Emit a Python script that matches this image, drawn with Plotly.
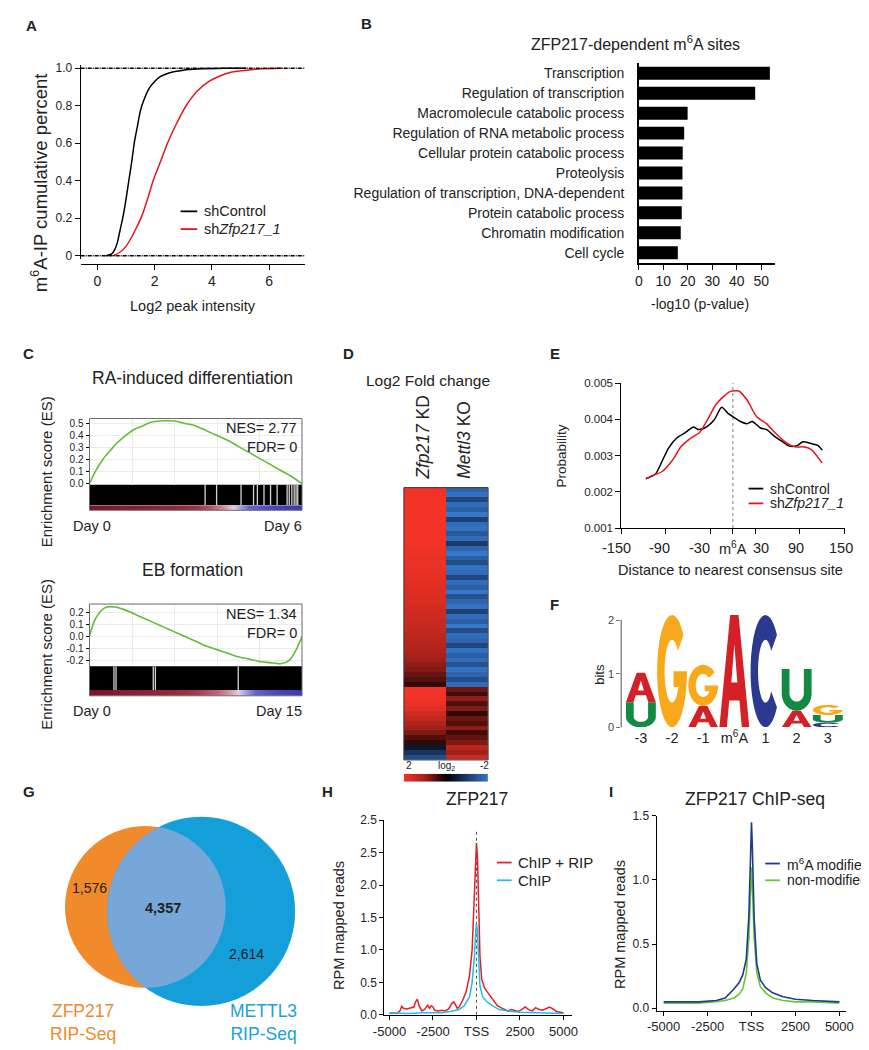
import numpy as np
import plotly.graph_objects as go

W, H = 869, 1050
FONT = "Arial, Liberation Sans, sans-serif"
INK = "#222222"

# ---------------- data ----------------
# (A) cumulative distribution of m6A-IP peak intensity
a_ctrl_x = [0.3, 0.5, 0.6, 0.7, 0.8, 0.9, 1.0, 1.1, 1.2, 1.3, 1.4, 1.5, 1.6, 1.8, 2.0, 2.2, 2.5, 3.0, 3.5, 4.5, 5.2]
a_ctrl_y = [0, 0.01, 0.03, 0.07, 0.14, 0.21, 0.30, 0.40, 0.50, 0.61, 0.69, 0.77, 0.82, 0.89, 0.93, 0.955, 0.975, 0.99, 0.996, 1.0, 1.0]
a_kd_x = [0.55, 0.8, 1.0, 1.2, 1.4, 1.55, 1.75, 1.95, 2.2, 2.45, 2.75, 3.1, 3.5, 3.9, 4.3, 4.7, 5.2, 5.8, 6.45]
a_kd_y = [0, 0.02, 0.05, 0.10, 0.16, 0.21, 0.30, 0.40, 0.50, 0.60, 0.70, 0.80, 0.88, 0.93, 0.96, 0.98, 0.99, 0.997, 1.0]

# (B) GO terms of ZFP217-dependent m6A sites
b_terms = ["Transcription", "Regulation of transcription", "Macromolecule catabolic process",
           "Regulation of RNA metabolic process", "Cellular protein catabolic process", "Proteolysis",
           "Regulation of transcription, DNA-dependent", "Protein catabolic process",
           "Chromatin modification", "Cell cycle"]
b_logp = [53.5, 47.5, 19.9, 18.5, 17.9, 17.8, 17.8, 17.5, 17.1, 15.9]

# (C) GSEA running enrichment scores (rank as fraction of list)
c_ra_rank = [0, 0.03, 0.066, 0.1, 0.13, 0.17, 0.21, 0.25, 0.29, 0.33, 0.4, 0.45, 0.5, 0.55, 0.6,
             0.65, 0.7, 0.75, 0.8, 0.85, 0.9, 0.95, 1.0]
c_ra_es = [0, 0.11, 0.21, 0.28, 0.34, 0.40, 0.45, 0.48, 0.51, 0.52, 0.52, 0.50, 0.48, 0.44, 0.40,
           0.36, 0.31, 0.26, 0.21, 0.16, 0.11, 0.06, 0.0]
c_ra_gaps = [0.544, 0.598, 0.713, 0.772, 0.790, 0.821, 0.852, 0.883, 0.93, 0.94, 0.952, 0.963, 0.972, 0.980]
c_ra_metric = [1.0, 0.95, 0.9, 0.88, 0.85, 0.8, 0.75, 0.7, 0.6, 0.45, 0.2, -0.1, -0.4, -0.65, -0.85, -0.95, -1.0]

c_eb_rank = [0, 0.02, 0.05, 0.08, 0.12, 0.16, 0.2, 0.25, 0.3, 0.35, 0.4, 0.45, 0.5, 0.55, 0.6, 0.65,
             0.7, 0.75, 0.8, 0.85, 0.9, 0.94, 0.97, 1.0]
c_eb_es = [0, 0.12, 0.21, 0.25, 0.25, 0.23, 0.20, 0.16, 0.12, 0.08, 0.04, 0.0, -0.04, -0.08, -0.11,
           -0.14, -0.17, -0.19, -0.21, -0.22, -0.23, -0.20, -0.12, 0.0]
c_eb_gaps = [0.115, 0.125, 0.30, 0.31, 0.70]
c_eb_metric = [1.0, 0.95, 0.9, 0.85, 0.8, 0.75, 0.7, 0.6, 0.5, 0.35, 0.1, -0.2, -0.5, -0.75, -0.9, -1.0]

# (D) log2 fold change, rows top to bottom
d_kd = [2.0, 2.0, 2.0, 2.0, 2.0, 2.0, 2.0, 2.0, 2.0, 2.0, 2.0, 2.0, 1.95, 1.95, 1.9, 1.9, 1.9, 1.85,
        1.85, 1.8, 1.8, 1.75, 1.7, 1.7, 1.65, 1.6, 1.55, 1.5, 1.45, 1.4, 1.35, 1.3, 1.25, 1.2, 1.1,
        1.0, 0.9, 0.8, 0.65, 0.5, 0.3,
        2.0, 2.0, 2.0, 1.9, 1.8, 1.6, 1.4, 1.2, 1.0, 0.8, 0.5, 0.3,
        -0.4, -0.9, -1.3]
d_ko = [-1.7, -1.9, -1.2, -1.8, -1.6, -2.0, -1.1, -1.8, -1.9, -1.5, -1.8, -1.0, -1.7, -2.0, -1.6,
        -1.3, -1.9, -1.8, -1.2, -1.8, -1.6, -2.0, -1.4, -1.7, -1.9, -1.1, -1.8, -1.6, -2.0, -1.3,
        -1.8, -1.7, -1.2, -1.9, -1.6, -1.8, -1.4, -1.9, -1.7, -1.3, -1.8,
        0.7, 0.4, 0.9, 0.5, 0.8, 0.3, 0.7, 0.5, 0.9, 0.4, 0.6, 0.8,
        1.3, 1.0, 1.5]
d_scale = [2, 0, -2]

# (E) distance to nearest consensus site
e_ctrl_x = [-117, -104, -95, -86, -75, -64, -53, -47, -38, -25, -15, -7, 1, 10, 19, 26, 37, 45, 56,
            67, 76, 87, 94, 105, 114, 120]
e_ctrl_y = [0.00236, 0.00249, 0.00285, 0.00322, 0.00349, 0.00363, 0.00379, 0.00372, 0.00376,
            0.00399, 0.00433, 0.00417, 0.00406, 0.00394, 0.00388, 0.00394, 0.00376, 0.00372,
            0.00353, 0.00338, 0.00326, 0.00328, 0.00338, 0.00333, 0.00328, 0.00315]
e_kd_x = [-117, -108, -95, -82, -69, -56, -45, -34, -23, -12, -3, 8, 19, 32, 45, 59, 72, 83, 94, 105, 120]
e_kd_y = [0.00236, 0.00245, 0.00256, 0.00285, 0.00326, 0.00349, 0.00363, 0.00399, 0.00440, 0.00464,
          0.00477, 0.00478, 0.00453, 0.00407, 0.00388, 0.00358, 0.00335, 0.00324, 0.00324, 0.00317,
          0.00279]
e_ticks = [-150, -90, -30, 0, 30, 90, 150]
e_tick_text = ["-150", "-90", "-30", "m<sup>6</sup>A", "30", "90", "150"]

# (F) motif logo: letters bottom to top with information (bits)
f_labels = ["-3", "-2", "-1", "m<sup>6</sup>A", "1", "2", "3"]
f_letters = [["U", "A"], ["G"], ["A", "G"], ["A"], ["C"], ["A", "U"], ["C", "U", "G"]]
f_bits = [[0.47, 0.55], [2.1], [0.4, 0.77], [2.1], [2.1], [0.31, 0.78], [0.09, 0.14, 0.19]]

# (G) Venn counts
g_zfp_only = 1576
g_both = 4357
g_mettl3_only = 2614

# (H) ZFP217 signal around TSS
h_rip_x = [-5000, -4800, -4600, -4400, -4300, -4200, -4000, -3800, -3600, -3500, -3400, -3300, -3150,
           -3000, -2800, -2700, -2600, -2500, -2400, -2200, -2000, -1800, -1600, -1400, -1300, -1200,
           -1100, -1000, -800, -600, -400, -250, -150, -60, 0, 60, 120, 200, 300, 450, 600, 800, 1000,
           1200, 1400, 1600, 1800, 2000, 2200, 2400, 2600, 2800, 3000, 3200, 3400, 3600, 3800, 4000,
           4200, 4400, 4600, 4800, 5000]
h_rip = [0.02, 0.03, 0.02, 0.06, 0.13, 0.10, 0.09, 0.10, 0.12, 0.20, 0.24, 0.14, 0.06, 0.08, 0.15,
         0.10, 0.14, 0.12, 0.07, 0.06, 0.07, 0.06, 0.09, 0.18, 0.20, 0.15, 0.10, 0.12, 0.22, 0.35,
         0.60, 1.0, 1.6, 2.3, 2.65, 2.4, 1.6, 0.9, 0.55, 0.42, 0.36, 0.28, 0.20, 0.14, 0.11, 0.08,
         0.06, 0.08, 0.06, 0.05, 0.08, 0.12, 0.08, 0.06, 0.11, 0.08, 0.07, 0.10, 0.12, 0.09, 0.05,
         0.04, 0.03]
h_chip_x = [-5000, -4000, -3000, -2000, -1500, -1000, -700, -400, -250, -120, -40, 0, 50, 120, 200,
            350, 600, 900, 1300, 1800, 2500, 3500, 4500, 5000]
h_chip = [0.03, 0.02, 0.03, 0.03, 0.05, 0.08, 0.14, 0.28, 0.5, 0.9, 1.3, 1.4, 1.3, 0.85, 0.45, 0.28,
          0.2, 0.14, 0.08, 0.06, 0.04, 0.03, 0.02, 0.02]

# (I) ZFP217 ChIP-seq, m6A modified vs non-modified
i_x = [-5000, -4000, -3000, -2000, -1500, -1000, -700, -500, -300, -150, -50, 0, 50, 150, 300, 500,
       800, 1200, 1800, 2500, 3500, 5000]
i_mod = [0.05, 0.05, 0.05, 0.06, 0.08, 0.15, 0.20, 0.26, 0.38, 0.72, 1.2, 1.45, 1.25, 0.7, 0.35,
         0.22, 0.16, 0.12, 0.09, 0.07, 0.06, 0.05]
i_non = [0.04, 0.04, 0.04, 0.05, 0.06, 0.08, 0.11, 0.15, 0.27, 0.55, 0.95, 1.1, 0.95, 0.55, 0.28,
         0.17, 0.12, 0.08, 0.06, 0.05, 0.05, 0.04]

# ---------------- helpers ----------------
def fx(x):
    return x / W


def fy(y):
    return 1 - y / H


fig = go.Figure()
layout = {}
shapes = []
annotations = []


def note(x, y, text, size=13, xanchor="center", yanchor="middle", angle=0, color=INK):
    annotations.append(dict(x=fx(x), y=fy(y), xref="paper", yref="paper", text=text, showarrow=False,
                            xanchor=xanchor, yanchor=yanchor, textangle=angle,
                            font=dict(family=FONT, size=size, color=color)))


def axes(i, x0, x1, y0, y1, xr, yr, xkw=None, ykw=None):
    s = "" if i == 1 else str(i)
    base = dict(showgrid=False, zeroline=False, showline=True, linecolor="black", linewidth=1,
                ticks="outside", ticklen=4, tickcolor="black", tickangle=0,
                tickfont=dict(family=FONT, size=12, color=INK))
    xa = dict(base, domain=[fx(x0), fx(x1)], anchor="y" + s)
    ya = dict(base, domain=[fy(y1), fy(y0)], anchor="x" + s)
    if xr is not None:
        xa["range"] = xr
    if yr is not None:
        ya["range"] = yr
    xa.update(xkw or {})
    ya.update(ykw or {})
    layout["xaxis" + s] = xa
    layout["yaxis" + s] = ya
    return "x" + s, "y" + s


HIDDEN = dict(showline=False, ticks="", showticklabels=False, showgrid=False)


def legend_line(x0, x1, y, color, text, size=14):
    shapes.append(dict(type="line", xref="paper", yref="paper", x0=fx(x0), x1=fx(x1), y0=fy(y), y1=fy(y),
                       line=dict(color=color, width=1.8)))
    note(x1 + 5, y, text, size=size, xanchor="left")


def line(x, y, xa, ya, color, width=1.5, shape="linear"):
    fig.add_trace(go.Scatter(x=x, y=y, xaxis=xa, yaxis=ya, mode="lines", showlegend=False,
                             line=dict(color=color, width=width, shape=shape, smoothing=0.7),
                             hoverinfo="skip"))


# ---------------- (A) ----------------
xa, ya = axes(1, 63, 292, 51, 247, [-0.58, 7.25], [-0.0158, 1.0158],
              xkw=dict(anchor="free", position=fy(252), tickvals=[0, 2, 4, 6], ticklen=5,
                       tickfont=dict(family=FONT, size=14, color=INK)),
              ykw=dict(tickvals=[0, 0.2, 0.4, 0.6, 0.8, 1.0], ticktext=["0", "0.2", "0.4", "0.6", "0.8", "1.0"],
                       ticklen=5))
for v in (0, 1):
    shapes.append(dict(type="line", xref="x domain", yref="y", x0=0, x1=1, y0=v, y1=v,
                       line=dict(color="black", width=1.5, dash="4px,1px,1px,1px")))
line(a_ctrl_x, a_ctrl_y, xa, ya, "black", shape="spline")
line(a_kd_x, a_kd_y, xa, ya, "#e8141c", shape="spline")
legend_line(165, 182, 199, "black", "shControl", 14.5)
legend_line(165, 182, 217, "#e8141c", "sh<i>Zfp217_1</i>", 14.5)
note(178, 295, "Log2 peak intensity", 14.5)
note(20, 170, "m<sup>6</sup>A-IP cumulative percent", 18.5, angle=-90)
note(13, 11, "<b>A</b>", 15)

# ---------------- (B) ----------------
xa, ya = axes(2, 633, 772, 49, 251, [0, 55.6], None,
              xkw=dict(tickvals=[0, 10, 20, 30, 40, 50], ticklen=5, linewidth=2,
                       tickfont=dict(family=FONT, size=14, color=INK)),
              ykw=dict(type="category", categoryorder="array", categoryarray=b_terms, autorange="reversed",
                       ticks="", linewidth=1.5, ticklabelstandoff=10,
                       tickfont=dict(family=FONT, size=14, color=INK)))
fig.add_trace(go.Bar(x=b_logp, y=b_terms, orientation="h", xaxis=xa, yaxis=ya, width=0.65,
                     marker=dict(color="black", line=dict(width=0)), showlegend=False))
note(630, 28, "ZFP217-dependent m<sup>6</sup>A sites", 16)
note(695, 293, "-log10 (p-value)", 14)
note(355, 9, "<b>B</b>", 15)

# ---------------- (C) ----------------
STRIP = [[0, "#3a3ab4"], [0.3, "#6464cc"], [0.48, "#ddd2e4"], [0.58, "#d6909e"], [0.8, "#a03244"],
         [1, "#7a1428"]]
GRID = dict(showgrid=True, gridcolor="#ebebeb", gridwidth=1)


def gsea(i0, top, es_bot, bar_bot, strip_bot, yr, yticks, rank, es, gaps, metric):
    xa, ya = axes(i0, 72, 289, top, es_bot, [0, 1], yr,
                  xkw=dict(HIDDEN, tickvals=[0.2, 0.4, 0.6, 0.8], **GRID),
                  ykw=dict(GRID, showline=False, tickvals=yticks, ticktext=["%.1f" % t for t in yticks],
                           ticklen=3, tickfont=dict(family=FONT, size=10, color=INK)))
    line(rank, es, xa, ya, "#62bd36", 1.6, "spline")
    xb, yb = axes(i0 + 1, 72, 289, es_bot, bar_bot, [0, 1], [0, 1], xkw=HIDDEN, ykw=HIDDEN)
    shapes.append(dict(type="rect", xref=xb + " domain", yref=yb + " domain", x0=0, x1=1, y0=0, y1=1,
                       fillcolor="black", line=dict(width=0), layer="below"))
    gx, gy = [], []
    for g in gaps:
        gx += [g, g, None]
        gy += [0, 1, None]
    line(gx, gy, xb, yb, "#d4d4d4", 1.3)
    xs, ys = axes(i0 + 2, 72, 289, bar_bot, strip_bot, [0, 1], [0, 1], xkw=HIDDEN, ykw=HIDDEN)
    fig.add_trace(go.Heatmap(z=[metric], x=list(np.linspace(0, 1, len(metric))), y=[0.5], xaxis=xs, yaxis=ys,
                             colorscale=STRIP, zmin=-1, zmax=1, zsmooth="best", showscale=False,
                             hoverinfo="skip"))
    shapes.append(dict(type="rect", xref="paper", yref="paper", x0=fx(72), x1=fx(289), y0=fy(strip_bot),
                       y1=fy(top), line=dict(color="#6a6a6a", width=1)))


gsea(3, 409, 476, 497, 502, [-0.008, 0.541], [0, 0.1, 0.2, 0.3, 0.4, 0.5],
     c_ra_rank, c_ra_es, c_ra_gaps, c_ra_metric)
note(177, 368, "RA-induced differentiation", 17.5)
note(286, 419, "NES= 2.77", 14.5, xanchor="right")
note(286, 438, "FDR= 0", 14.5, xanchor="right")
note(53, 518, "Day 0", 14.5, xanchor="left")
note(291, 518, "Day 6", 14.5, xanchor="right")
note(28, 463, "Enrichment score (ES)", 15, angle=-90)

gsea(6, 597, 660, 684, 690, [-0.25, 0.275], [-0.2, -0.1, 0, 0.1, 0.2],
     c_eb_rank, c_eb_es, c_eb_gaps, c_eb_metric)
note(177, 562, "EB formation", 17.5)
note(286, 607, "NES= 1.34", 14.5, xanchor="right")
note(286, 626, "FDR= 0", 14.5, xanchor="right")
note(53, 705, "Day 0", 14.5, xanchor="left")
note(291, 705, "Day 15", 14.5, xanchor="right")
note(28, 648, "Enrichment score (ES)", 15, angle=-90)
note(10, 343, "<b>C</b>", 15)

# ---------------- (D) ----------------
FC = [[0, "#3678cc"], [0.25, "#1b3a68"], [0.5, "#000000"], [0.75, "#a0201a"], [1, "#f23326"]]
xa, ya = axes(9, 393, 479, 479, 755, [-0.5, 1.5], None, xkw=HIDDEN, ykw=dict(HIDDEN, autorange="reversed"))
fig.add_trace(go.Heatmap(z=[[k, m] for k, m in zip(d_kd, d_ko)], x=[0, 1], y=list(range(len(d_kd))),
                         xaxis=xa, yaxis=ya, colorscale=FC, zmin=-2, zmax=2, showscale=False,
                         hoverinfo="skip"))
shapes.append(dict(type="rect", xref="paper", yref="paper", x0=fx(393), x1=fx(479), y0=fy(755), y1=fy(479),
                   line=dict(color="#333333", width=1)))
xa, ya = axes(10, 393, 479, 769, 777, None, [0, 1], xkw=HIDDEN, ykw=HIDDEN)
fig.add_trace(go.Heatmap(z=[d_scale], y=[0.5], xaxis=xa, yaxis=ya, colorscale=FC, zmin=-2, zmax=2,
                         zsmooth="best", showscale=False, hoverinfo="skip"))
layout["xaxis10"]["range"] = [0, 2]
note(418, 370, "Log2 Fold change", 15.5)
note(413, 428, "<i>Zfp217</i> KD", 17.5, angle=-90)
note(455, 431, "<i>Mettl3</i> KO", 17.5, angle=-90)
note(398, 761, "2", 10)
note(437, 761, "log<sub>2</sub>", 10)
note(475, 761, "-2", 10)
note(336, 343, "<b>D</b>", 15)

# ---------------- (E) ----------------
xa, ya = axes(11, 615, 843, 373, 520, [-150, 150], [0.001, 0.005],
              xkw=dict(tickvals=e_ticks, showticklabels=False, ticklen=5),
              ykw=dict(tickvals=[0.001, 0.002, 0.003, 0.004, 0.005],
                       ticktext=["0.001", "0.002", "0.003", "0.004", "0.005"], ticklen=5,
                       tickfont=dict(family=FONT, size=11.5, color=INK)))
# tick labels drawn as annotations so the crowded centre labels can be nudged apart
for val, lab, shift in zip(e_ticks, e_tick_text, [-5, -6, -11, 0, 6, -4, -4]):
    annotations.append(dict(x=val, y=fy(540), xref=xa, yref="paper", text=lab, showarrow=False,
                            xshift=shift, xanchor="center", yanchor="middle",
                            font=dict(family=FONT, size=14.5, color=INK)))
shapes.append(dict(type="line", xref=xa, yref=ya + " domain", x0=0, x1=0, y0=0, y1=1,
                   line=dict(color="#777777", width=1, dash="dot"), layer="below"))
line(e_ctrl_x, e_ctrl_y, xa, ya, "black", 1.5, "spline")
line(e_kd_x, e_kd_y, xa, ya, "#e8141c", 1.5, "spline")
legend_line(745, 760, 480, "black", "shControl", 14)
legend_line(745, 760, 495, "#e8141c", "sh<i>Zfp217_1</i>", 14)
note(554, 447, "Probability", 13.5, angle=-90)
note(727, 562, "Distance to nearest consensus site", 14.5)
note(547, 343, "<b>E</b>", 15)

# ---------------- (F) ----------------
def arc(cx, cy, rx, ry, a0, a1, n=28):
    t = np.radians(np.linspace(a0, a1, n))
    return list(zip(cx + rx * np.cos(t), cy + ry * np.sin(t)))


GLYPHS = {
    "A": [[(0, 0), (0.36, 1), (0.64, 1), (1, 0), (0.75, 0), (0.67, 0.24), (0.33, 0.24), (0.25, 0)],
          [(0.60, 0.40), (0.5, 0.74), (0.40, 0.40)]],
    "C": [arc(0.5, 0.5, 0.5, 0.5, 40, 320) + arc(0.5, 0.5, 0.25, 0.28, 320, 40)],
    "G": [arc(0.5, 0.5, 0.5, 0.5, 40, 360) + [(0.55, 0.5), (0.55, 0.36)] + arc(0.5, 0.5, 0.25, 0.28, 330, 40)],
    "U": [[(0, 1), (0, 0.42)] + arc(0.5, 0.42, 0.5, 0.42, 180, 360) + [(1, 1), (0.74, 1)]
          + arc(0.5, 0.42, 0.24, 0.2, 360, 180) + [(0.26, 1)]],
}
BASE_COLOR = {"A": "#d42027", "C": "#2b3990", "G": "#f7a81b", "U": "#138a43"}

xa, ya = axes(12, 615, 845, 600, 722, [0.37, 7.6], [0, 2.25],
              xkw=dict(showline=False, ticks="", tickvals=list(range(1, 8)), ticktext=f_labels,
                       tickfont=dict(family=FONT, size=14.5, color=INK)),
              ykw=dict(showline=False, tickvals=[0, 1, 2], ticklen=4, tickcolor="#777777",
                       tickfont=dict(family=FONT, size=11, color="#444444")))
shapes.append(dict(type="line", xref="paper", yref="paper", x0=fx(615), x1=fx(615), y0=fy(722), y1=fy(613),
                   line=dict(color="#888888", width=1.5)))
for pos, (letters, bits) in enumerate(zip(f_letters, f_bits), start=1):
    y0 = 0.0
    for base, h in zip(letters, bits):
        path = ""
        for poly in GLYPHS[base]:
            pts = ["%.4f,%.4f" % (pos - 0.48 + u * 0.96, y0 + v * h) for u, v in poly]
            path += "M" + " L".join(pts) + " Z "
        shapes.append(dict(type="path", xref=xa, yref=ya, path=path, fillcolor=BASE_COLOR[base],
                           line=dict(width=0)))
        y0 += h
note(592, 668, "bits", 13, angle=-90)
note(547, 597, "<b>F</b>", 15)

# ---------------- (G) ----------------
c1, r1 = np.array([129.0, 904.0]), 82.0
c2, r2 = np.array([186.0, 908.5]), 96.0
for c, r, col in ((c1, r1, "#f08a2a"), (c2, r2, "#159fda")):
    shapes.append(dict(type="circle", xref="paper", yref="paper", x0=fx(c[0] - r), x1=fx(c[0] + r),
                       y0=fy(c[1] + r), y1=fy(c[1] - r), fillcolor=col, line=dict(width=0)))


def arc_inside(c, r, pa, pb, oc, orad, n=60):
    a0 = np.arctan2(pa[1] - c[1], pa[0] - c[0])
    a1 = np.arctan2(pb[1] - c[1], pb[0] - c[0])
    for end in (a1, a1 + 2 * np.pi, a1 - 2 * np.pi):
        if abs(end - a0) >= 2 * np.pi:
            continue
        mid = (a0 + end) / 2
        m = c + r * np.array([np.cos(mid), np.sin(mid)])
        if np.hypot(*(m - oc)) < orad:
            t = np.linspace(a0, end, n)
            return [(c[0] + r * np.cos(a), c[1] + r * np.sin(a)) for a in t]


d = np.hypot(*(c2 - c1))
a = (d ** 2 + r1 ** 2 - r2 ** 2) / (2 * d)
hh = np.sqrt(r1 ** 2 - a ** 2)
u = (c2 - c1) / d
perp = np.array([-u[1], u[0]])
p1 = c1 + a * u + hh * perp
p2 = c1 + a * u - hh * perp
lens = arc_inside(c1, r1, p1, p2, c2, r2) + arc_inside(c2, r2, p2, p1, c1, r1)
shapes.append(dict(type="path", xref="paper", yref="paper", fillcolor="#77a7d8", line=dict(width=0),
                   path="M" + " L".join("%.5f,%.5f" % (fx(x), fy(y)) for x, y in lens) + " Z"))
note(72, 885, f"{g_zfp_only:,}", 14)
note(147, 905, f"<b>{g_both:,}</b>", 14.5)
note(232, 952, f"{g_mettl3_only:,}", 14)
note(65, 1021, "ZFP217<br>RIP-Seq", 17.5, color="#ef8a2b")
note(250, 1021, "METTL3<br>RIP-Seq", 17.5, color="#1aa0dc")
note(10, 787, "<b>G</b>", 15)

# ---------------- (H) ----------------
XT = dict(tickvals=[-5000, -2500, 0, 2500, 5000], ticktext=["-5000", "-2500", "TSS", "2500", "5000"],
          tickfont=dict(family=FONT, size=13, color=INK))
xa, ya = axes(14, 373, 565, 816, 1014, [-5300, 5507], [-0.0106, 3.0], xkw=XT,
              ykw=dict(tickvals=[0, 0.5, 1.0, 1.5, 2.0, 2.5, 3.0],
                       ticktext=["0.0", "0.5", "1.0", "1.5", "2.0", "2.5", "2.5"]))
shapes.append(dict(type="line", xref=xa, yref=ya, x0=0, x1=0, y0=0, y1=2.82,
                   line=dict(color="#555555", width=1, dash="dot"), layer="below"))
line(h_rip_x, h_rip, xa, ya, "#e41e26", 1.5)
line(h_chip_x, h_chip, xa, ya, "#22bde8", 1.5)
legend_line(488, 503, 859, "#e41e26", "ChIP + RIP", 15)
legend_line(488, 503, 877, "#22bde8", "ChIP", 15)
note(468, 795, "ZFP217", 17.5)
note(326, 923, "RPM mapped reads", 14.5, angle=-90)
note(315, 787, "<b>H</b>", 15)

# ---------------- (I) ----------------
xa, ya = axes(15, 651, 845, 811.7, 1009, [-5407, 5407], [-0.018, 1.5], xkw=XT,
              ykw=dict(tickvals=[0, 0.5, 1.0, 1.5], ticktext=["0.0", "0.5", "1.0", "1.5"]))
line(i_x, i_non, xa, ya, "#63c73a", 1.6)
line(i_x, i_mod, xa, ya, "#1d3b8f", 1.6)
legend_line(762, 777, 860, "#1d3b8f", "m<sup>6</sup>A modified", 14)
legend_line(762, 777, 877, "#63c73a", "non-modified", 14)
note(752, 795, "ZFP217 ChIP-seq", 17.5)
note(613, 922, "RPM mapped reads", 14.5, angle=-90)
note(605, 787, "<b>I</b>", 15)

fig.update_layout(width=W, height=H, margin=dict(l=0, r=0, t=0, b=0), paper_bgcolor="white",
                  plot_bgcolor="white", showlegend=False, shapes=shapes, annotations=annotations,
                  font=dict(family=FONT, color=INK), **layout)
fig.write_html("out.html")
